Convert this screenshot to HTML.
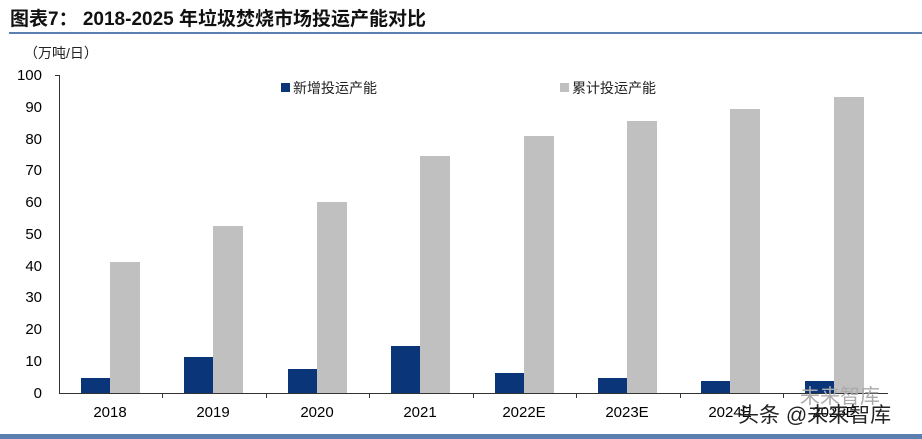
<!DOCTYPE html>
<html><head><meta charset="utf-8"><style>
body{margin:0;background:#fff;width:922px;height:439px;overflow:hidden}
svg{display:block}
text{font-family:"Liberation Sans","Noto Sans CJK SC",sans-serif}
</style></head><body>
<svg width="922" height="439" viewBox="0 0 922 439">
<text x="10" y="25" font-size="19" font-weight="bold" fill="#111">图表7：  2018-2025 年垃圾焚烧市场投运产能对比</text>
<rect x="9" y="32" width="913" height="2" fill="#5a7fb0"/>
<text x="24" y="58" font-size="14" fill="#222" font-family="Noto Serif CJK SC">（万吨/日）</text>
<g font-size="15" fill="#000" text-anchor="end">
<text x="42" y="80">100</text><text x="42" y="112">90</text><text x="42" y="144">80</text><text x="42" y="175">70</text><text x="42" y="207">60</text><text x="42" y="239">50</text><text x="42" y="271">40</text><text x="42" y="302">30</text><text x="42" y="334">20</text><text x="42" y="366">10</text><text x="42" y="398">0</text>
</g>
<g stroke="#333" stroke-width="1">
<line x1="59.5" y1="75" x2="59.5" y2="393"/>
<line x1="55" y1="75.5" x2="59.5" y2="75.5"/>
<line x1="59" y1="393.5" x2="888" y2="393.5"/>
<line x1="162.5" y1="393" x2="162.5" y2="398"/><line x1="266.5" y1="393" x2="266.5" y2="398"/><line x1="369.5" y1="393" x2="369.5" y2="398"/><line x1="473.5" y1="393" x2="473.5" y2="398"/><line x1="576.5" y1="393" x2="576.5" y2="398"/><line x1="680.5" y1="393" x2="680.5" y2="398"/><line x1="783.5" y1="393" x2="783.5" y2="398"/>
</g>
<g fill="#0a3579">
<rect x="81" y="378" width="29" height="15"/>
<rect x="184" y="357" width="29" height="36"/>
<rect x="288" y="369" width="29" height="24"/>
<rect x="391" y="346" width="29" height="47"/>
<rect x="495" y="373" width="29" height="20"/>
<rect x="598" y="378" width="29" height="15"/>
<rect x="701" y="381" width="29" height="12"/>
<rect x="805" y="381" width="29" height="12"/>
</g>
<g fill="#c0c0c0">
<rect x="110" y="262" width="30" height="131"/>
<rect x="213" y="226" width="30" height="167"/>
<rect x="317" y="202" width="30" height="191"/>
<rect x="420" y="156" width="30" height="237"/>
<rect x="524" y="136" width="30" height="257"/>
<rect x="627" y="121" width="30" height="272"/>
<rect x="730" y="109" width="30" height="284"/>
<rect x="834" y="97" width="30" height="296"/>
</g>
<g font-size="15" fill="#000" text-anchor="middle">
<text x="110" y="417">2018</text><text x="213" y="417">2019</text><text x="317" y="417">2020</text><text x="420" y="417">2021</text><text x="524" y="417">2022E</text><text x="627" y="417">2023E</text><text x="730" y="417">2024E</text><text x="834" y="417">2025E</text>
</g>
<rect x="281" y="83" width="9" height="9" fill="#0a3579"/>
<text x="293" y="93" font-size="14" fill="#222" font-family="Noto Serif CJK SC">新增投运产能</text>
<rect x="560" y="83" width="9" height="9" fill="#c0c0c0"/>
<text x="572" y="93" font-size="14" fill="#222" font-family="Noto Serif CJK SC">累计投运产能</text>
<text x="800" y="403" font-size="20" fill="#aaa" font-family="Noto Sans CJK SC">未来智库</text>
<text x="738" y="422" font-size="21" fill="#222" font-family="Noto Sans CJK SC">头条 @未来智库</text>
<rect x="0" y="434" width="922" height="5" fill="#5a7fb0"/>
</svg>
</body></html>
